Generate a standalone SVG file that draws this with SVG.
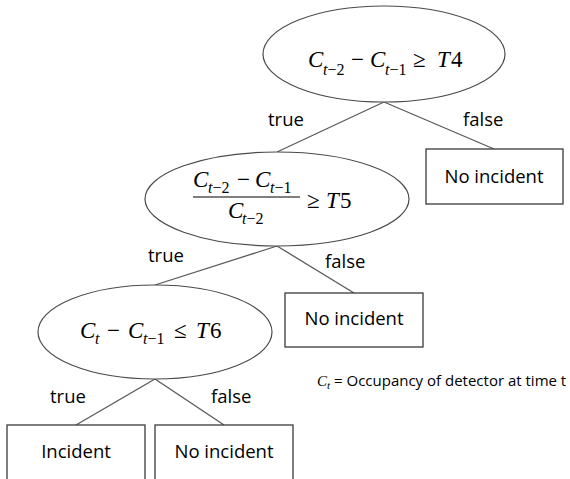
<svg xmlns="http://www.w3.org/2000/svg" width="570" height="479" viewBox="0 0 570 479">
  <style>
    .oval { fill: #ffffff; stroke: #4a4a4a; stroke-width: 1.2; }
    .box { fill: #ffffff; stroke: #3a3a3a; stroke-width: 1.3; }
    .edge { stroke: #595959; stroke-width: 1.3; fill: none; }
    .lbl { font-family: "Open Sans", "Liberation Sans", sans-serif; font-size: 18.5px; fill: #000; }
    .box-text { font-family: "Open Sans", "Liberation Sans", sans-serif; font-size: 18.5px; fill: #000; text-anchor: middle; }
    .math { font-family: "Liberation Serif", "DejaVu Serif", serif; font-size: 23px; font-style: italic; fill: #000; }
    .math .up { font-style: normal; }
    .math .sub { font-size: 16px; }
    .note { font-family: "Open Sans", "Liberation Sans", sans-serif; font-size: 15px; fill: #000; }
  </style>

  <!-- connectors -->
  <g id="connectors">
    <line class="edge" x1="384" y1="102" x2="277" y2="152"/>
    <line class="edge" x1="384" y1="102" x2="494" y2="149"/>
    <line class="edge" x1="277" y1="246" x2="155" y2="285"/>
    <line class="edge" x1="277" y1="246" x2="354" y2="293"/>
    <line class="edge" x1="155" y1="379" x2="76" y2="425"/>
    <line class="edge" x1="155" y1="379" x2="224" y2="425"/>
  </g>

  <!-- branch labels -->
  <g id="labels">
    <text class="lbl" x="268" y="126">true</text>
    <text class="lbl" x="463" y="126">false</text>
    <text class="lbl" x="148" y="262">true</text>
    <text class="lbl" x="325" y="268">false</text>
    <text class="lbl" x="50" y="403">true</text>
    <text class="lbl" x="211" y="403">false</text>
  </g>

  <!-- decision 1 -->
  <g id="cond-t4">
    <ellipse class="oval" cx="384" cy="54" rx="121" ry="48"/>
    <text class="math">
      <tspan x="308" y="67">C</tspan>
      <tspan class="sub" x="323" y="75">t<tspan class="up">−2</tspan></tspan>
      <tspan class="up" x="351" y="67">−</tspan>
      <tspan x="370" y="67">C</tspan>
      <tspan class="sub" x="385" y="75">t<tspan class="up">−1</tspan></tspan>
      <tspan class="up" x="413" y="67">≥</tspan>
      <tspan x="437" y="67">T</tspan>
      <tspan class="up" x="451" y="67">4</tspan>
    </text>
  </g>

  <!-- decision 2 -->
  <g id="cond-t5">
    <ellipse class="oval" cx="277" cy="199" rx="132" ry="47"/>
    <text class="math">
      <tspan x="193" y="187">C</tspan>
      <tspan class="sub" x="208" y="193">t<tspan class="up">−2</tspan></tspan>
      <tspan class="up" x="237" y="187">−</tspan>
      <tspan x="255" y="187">C</tspan>
      <tspan class="sub" x="270" y="193">t<tspan class="up">−1</tspan></tspan>
      <tspan x="228" y="218">C</tspan>
      <tspan class="sub" x="242" y="224">t<tspan class="up">−2</tspan></tspan>
      <tspan class="up" x="307" y="208">≥</tspan>
      <tspan x="326" y="208">T</tspan>
      <tspan class="up" x="340" y="208">5</tspan>
    </text>
    <line x1="193" y1="197" x2="300" y2="197" stroke="#000" stroke-width="1.2"/>
  </g>

  <!-- decision 3 -->
  <g id="cond-t6">
    <ellipse class="oval" cx="155" cy="332" rx="117" ry="47"/>
    <text class="math">
      <tspan x="80" y="338">C</tspan>
      <tspan class="sub" x="95" y="344">t</tspan>
      <tspan class="up" x="107" y="338">−</tspan>
      <tspan x="128" y="338">C</tspan>
      <tspan class="sub" x="143" y="344">t<tspan class="up">−1</tspan></tspan>
      <tspan class="up" x="174" y="338">≤</tspan>
      <tspan x="196" y="338">T</tspan>
      <tspan class="up" x="210" y="338">6</tspan>
    </text>
  </g>

  <!-- outcomes -->
  <g id="no-incident-1">
    <rect class="box" x="426" y="149" width="137" height="55"/>
    <text class="box-text" x="494" y="183">No incident</text>
  </g>
  <g id="no-incident-2">
    <rect class="box" x="285" y="293" width="138" height="54"/>
    <text class="box-text" x="354" y="325">No incident</text>
  </g>
  <g id="incident">
    <rect class="box" x="7" y="425" width="138" height="70"/>
    <text class="box-text" x="76" y="458">Incident</text>
  </g>
  <g id="no-incident-3">
    <rect class="box" x="155" y="425" width="138" height="70"/>
    <text class="box-text" x="224" y="458">No incident</text>
  </g>

  <!-- legend -->
  <g id="legend">
    <text class="math" style="font-size:15px"><tspan x="317" y="386">C</tspan><tspan style="font-size:11px" x="327" y="389">t</tspan></text>
    <text class="note" x="334" y="386">= Occupancy of detector at time t</text>
  </g>
</svg>
